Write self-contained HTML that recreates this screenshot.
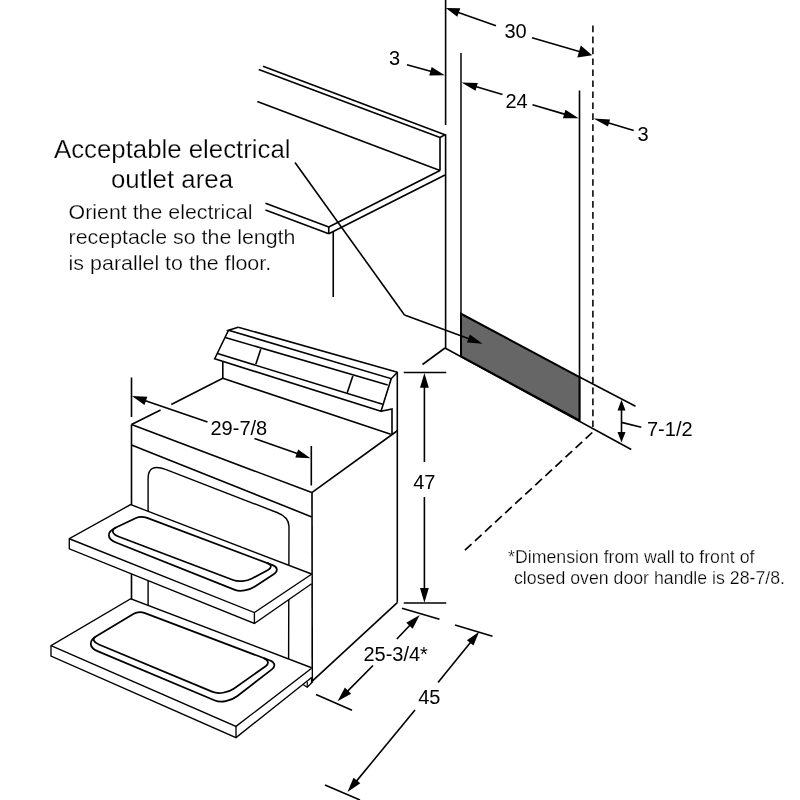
<!DOCTYPE html>
<html><head><meta charset="utf-8"><title>Range installation dimensions</title>
<style>
html,body{margin:0;padding:0;background:#fff;}
body{width:800px;height:800px;overflow:hidden;}
svg{display:block;will-change:transform;}
svg text{font-family:"Liberation Sans",sans-serif;fill:#000;stroke:#fff;stroke-width:0.25px;}
svg text.n{stroke:none;}
</style></head><body>
<svg width="800" height="800" viewBox="0 0 800 800" stroke="#000" fill="none" stroke-linecap="butt" stroke-linejoin="miter">
<rect x="0" y="0" width="800" height="800" fill="#fff" stroke="none"/>
<line x1="445.6" y1="0" x2="445.6" y2="125" stroke-width="1.6" />
<line x1="445.6" y1="134.2" x2="445.6" y2="348" stroke-width="1.6" />
<line x1="461" y1="53" x2="461" y2="356" stroke-width="1.7" stroke="#222"/>
<line x1="579.5" y1="90.5" x2="579.5" y2="420" stroke-width="1.6" />
<line x1="592.9" y1="25.6" x2="592.9" y2="427.6" stroke-width="1.55" stroke-dasharray="6.6 4.37"/>
<line x1="592.25" y1="432.5" x2="463.4" y2="551.6" stroke-width="1.7" stroke-dasharray="9 4.7"/>
<line x1="445" y1="348" x2="422.5" y2="364.5" stroke-width="1.6" />
<line x1="445" y1="348" x2="631.25" y2="449.5" stroke-width="1.6" />
<path d="M461,313.75 L579.5,377 L579.5,420.5 L461,356.5 Z" stroke-width="2" fill="#666" />
<line x1="579.5" y1="377" x2="635.5" y2="406.25" stroke-width="1.6" />
<line x1="263" y1="66.25" x2="445.6" y2="134.9" stroke-width="1.6" />
<line x1="258.75" y1="69.5" x2="440" y2="137.5" stroke-width="1.6" />
<line x1="440" y1="137.5" x2="445.2" y2="134.6" stroke-width="1.6" />
<line x1="440" y1="137.5" x2="440" y2="170.5" stroke-width="1.6" />
<line x1="257.3" y1="101.5" x2="440" y2="170.5" stroke-width="1.6" />
<line x1="440" y1="170.5" x2="328.75" y2="227" stroke-width="1.6" />
<line x1="445" y1="175" x2="328.75" y2="233.75" stroke-width="1.6" />
<line x1="328.75" y1="227" x2="265.5" y2="203.25" stroke-width="1.6" />
<line x1="328.75" y1="233.75" x2="265.5" y2="210" stroke-width="1.6" />
<line x1="328.75" y1="227" x2="328.75" y2="233.75" stroke-width="1.6" />
<line x1="333.25" y1="232" x2="333.25" y2="297" stroke-width="1.6" />
<line x1="496" y1="25.8" x2="456.92" y2="11.94" stroke-width="1.6" />
<polygon points="445.8,8 460.31,8.37 457.30,16.85" fill="#000" stroke="none"/>
<line x1="532" y1="37.8" x2="580.97" y2="52.03" stroke-width="1.6" />
<polygon points="592.2,55.3 577.31,57.43 580.78,45.52" fill="#000" stroke="none"/>
<text class="n" x="515.5" y="37.5" font-size="20" text-anchor="middle" >30</text>
<line x1="407" y1="64.7" x2="432.38" y2="71.84" stroke-width="1.6" />
<polygon points="444.7,75.3 429.26,75.53 431.64,67.06" fill="#000" stroke="none"/>
<text class="n" x="394.5" y="64.5" font-size="20" text-anchor="middle" >3</text>
<line x1="502.5" y1="94.5" x2="474.74" y2="86.31" stroke-width="1.6" />
<polygon points="461.5,82.4 477.79,83.04 475.52,90.71" fill="#000" stroke="none"/>
<line x1="532.5" y1="104.7" x2="566.13" y2="114.62" stroke-width="1.6" />
<polygon points="578.6,118.3 562.97,118.28 565.46,109.84" fill="#000" stroke="none"/>
<text class="n" x="516.5" y="107.5" font-size="20" text-anchor="middle" >24</text>
<line x1="633.75" y1="130.5" x2="607.1" y2="122.49" stroke-width="1.6" />
<polygon points="593.5,118.4 610.05,119.62 607.98,126.51" fill="#000" stroke="none"/>
<text class="n" x="643" y="140.5" font-size="20" text-anchor="middle" >3</text>
<line x1="621.5" y1="421" x2="621.5" y2="408.4" stroke-width="1.6" />
<polygon points="621.5,399.8 625.50,410.40 617.50,410.40" fill="#000" stroke="none"/>
<line x1="621.5" y1="421" x2="621.5" y2="434.0" stroke-width="1.6" />
<polygon points="621.5,442.6 617.50,432.00 625.50,432.00" fill="#000" stroke="none"/>
<line x1="621.5" y1="422.4" x2="641.3" y2="427.3" stroke-width="1.6" />
<text class="n" x="647" y="436" font-size="20" text-anchor="start" >7-1/2</text>
<line x1="403.75" y1="372.5" x2="446.25" y2="372.5" stroke-width="1.6" />
<line x1="403.75" y1="603" x2="446.25" y2="603" stroke-width="1.6" />
<line x1="424.4" y1="462" x2="424.4" y2="385.7" stroke-width="1.6" />
<polygon points="424.4,372.9 428.80,387.70 420.00,387.70" fill="#000" stroke="none"/>
<line x1="424.4" y1="497" x2="424.4" y2="590.0" stroke-width="1.6" />
<polygon points="424.4,602.8 420.00,588.00 428.80,588.00" fill="#000" stroke="none"/>
<text class="n" x="424.3" y="489" font-size="20" text-anchor="middle" >47</text>
<line x1="131.5" y1="377.5" x2="131.5" y2="417" stroke-width="1.6" />
<line x1="311.3" y1="446" x2="311.3" y2="485.5" stroke-width="1.6" />
<line x1="207.5" y1="421.9" x2="144.01" y2="400.15" stroke-width="1.6" />
<polygon points="131.9,396 147.33,396.63 144.48,404.96" fill="#000" stroke="none"/>
<line x1="254.5" y1="438.5" x2="298.62" y2="454.1" stroke-width="1.6" />
<polygon points="310.5,458.3 295.32,457.44 298.15,449.43" fill="#000" stroke="none"/>
<text class="n" x="210.5" y="435" font-size="20" text-anchor="start" >29-7/8</text>
<line x1="402" y1="608.3" x2="439.5" y2="619.3" stroke-width="1.6" />
<line x1="316" y1="694.6" x2="352" y2="710.2" stroke-width="1.6" />
<line x1="396.8" y1="639" x2="410.86" y2="624.26" stroke-width="1.6" />
<polygon points="419.7,615 412.67,628.75 406.30,622.67" fill="#000" stroke="none"/>
<line x1="373" y1="665.5" x2="346.61" y2="692.11" stroke-width="1.6" />
<polygon points="337.6,701.2 344.90,687.59 351.15,693.79" fill="#000" stroke="none"/>
<text class="n" x="363.4" y="661" font-size="20" text-anchor="start" >25-3/4*</text>
<line x1="455" y1="625" x2="492.5" y2="636.25" stroke-width="1.6" />
<line x1="325" y1="785" x2="360" y2="800" stroke-width="1.6" />
<line x1="438" y1="682.5" x2="471.44" y2="641.35" stroke-width="1.6" />
<polygon points="479.2,631.8 473.44,645.55 466.92,640.25" fill="#000" stroke="none"/>
<line x1="415" y1="710" x2="355.63" y2="782.12" stroke-width="1.6" />
<polygon points="347.5,792 353.51,777.78 360.30,783.37" fill="#000" stroke="none"/>
<text class="n" x="429.3" y="704" font-size="20" text-anchor="middle" >45</text>
<line x1="295" y1="162.5" x2="404.5" y2="315" stroke-width="1.6" />
<line x1="404.5" y1="315" x2="470.3" y2="339.25" stroke-width="1.6" />
<polygon points="482.5,343.75 466.94,342.60 469.91,334.53" fill="#000" stroke="none"/>
<text x="54" y="157.7" font-size="26" text-anchor="start" textLength="236.5" lengthAdjust="spacingAndGlyphs" >Acceptable electrical</text>
<text x="111" y="188" font-size="26" text-anchor="start" textLength="122" lengthAdjust="spacingAndGlyphs" >outlet area</text>
<text x="68.6" y="219" font-size="21" text-anchor="start" textLength="184" lengthAdjust="spacingAndGlyphs" >Orient the electrical</text>
<text x="68.6" y="244.25" font-size="21" text-anchor="start" textLength="226.8" lengthAdjust="spacingAndGlyphs" >receptacle so the length</text>
<text x="68.6" y="269.5" font-size="21" text-anchor="start" textLength="202.6" lengthAdjust="spacingAndGlyphs" >is parallel to the floor.</text>
<text x="508" y="563" font-size="18" text-anchor="start" textLength="246.5" lengthAdjust="spacingAndGlyphs" >*Dimension from wall to front of</text>
<text x="514" y="583.6" font-size="18" text-anchor="start" textLength="271" lengthAdjust="spacingAndGlyphs" >closed oven door handle is 28-7/8.</text>
<path d="M238.25,327.25 L397.5,372.25" stroke-width="1.6" fill="none" />
<path d="M238.25,327.25 L228.5,330.25 L391.2,378.7 L397.5,372.25" stroke-width="1.6" fill="none" />
<path d="M228.5,330.25 L214.7,358.75 L381,411.3 L391.2,378.7" stroke-width="1.6" fill="none" />
<line x1="225.2" y1="337.5" x2="387.75" y2="385" stroke-width="1.6" />
<line x1="217.5" y1="353.5" x2="382.6" y2="404.3" stroke-width="1.6" />
<line x1="260.75" y1="349.3" x2="255.8" y2="364.3" stroke-width="1.6" />
<line x1="352.8" y1="376" x2="347.25" y2="392.8" stroke-width="1.6" />
<path d="M381,411.3 L392,409 L392,434" stroke-width="1.6" fill="none" />
<line x1="222.8" y1="361.5" x2="222.8" y2="378.25" stroke-width="1.6" />
<line x1="222.8" y1="378.25" x2="390.75" y2="434.2" stroke-width="1.6" />
<line x1="397.3" y1="372.25" x2="397.3" y2="602.6" stroke-width="1.6" />
<line x1="397.3" y1="430.75" x2="311.8" y2="492.6" stroke-width="1.6" />
<line x1="222.8" y1="378.25" x2="171.25" y2="404.5" stroke-width="1.6" />
<line x1="160.6" y1="410" x2="131.5" y2="424.5" stroke-width="1.6" />
<line x1="131.5" y1="424.5" x2="311.8" y2="492.6" stroke-width="1.6" />
<line x1="131.5" y1="445" x2="311.8" y2="516.9" stroke-width="1.6" />
<line x1="131.5" y1="424.5" x2="131.5" y2="600" stroke-width="1.6" />
<line x1="312" y1="492.6" x2="312.25" y2="681.2" stroke-width="1.6" />
<line x1="397.3" y1="602.6" x2="312.25" y2="681.2" stroke-width="1.6" />
<path d="M148.1,605 L148.1,478.5 Q148.1,462.7 166.2,469.7 L277,512.5 Q289,517.1 289,526.5 L288.6,659" stroke-width="1.4" fill="none" />
<path d="M130.6,504.6 L69.3,538.75 L69.3,548.8 L254.4,623.5 L311.2,583.75 L311.2,574 Z" stroke-width="0" fill="#fff" stroke="none"/>
<path d="M311.6,574 L130.6,504.6 L69.3,538.75 L69.3,548.8 L254.4,623.5 L311.6,583.75" stroke-width="1.35" fill="none" />
<path d="M69.3,538.75 L254.4,612.6 L311.9,574" stroke-width="1.35" fill="none" />
<line x1="254.4" y1="612.6" x2="254.4" y2="623.5" stroke-width="1.35" />
<path d="M136.03,517.97 C138.78,516.66 143.72,516.63 147.08,517.89 L272.64,565.18 C277.81,567.12 278.26,571.16 273.65,574.20 L254.97,586.50 C249.02,590.42 240.04,591.94 234.91,589.90 L115.99,542.54 C106.49,538.76 106.48,532.04 115.95,527.53 Z" stroke-width="1.75" fill="none" />
<path d="M267.07,562.84 L267.07,562.84 C271.73,564.59 272.14,567.79 267.99,569.99 L252.02,578.48 C246.71,581.31 238.21,582.01 233.05,580.05 L119.02,536.79 C112.05,534.14 110.69,529.97 115.98,527.46 L116.07,527.42" stroke-width="1.75" fill="none" />
<path d="M130.8,598.75 L51,645.6 L51,656 L236,737.6 L311.4,677.5 L311.4,667.75 Z" stroke-width="0" fill="#fff" stroke="none"/>
<path d="M311.6,667.75 L130.8,598.75 L51,645.6 L51,656 L236,737.6 L311.6,677.5" stroke-width="1.35" fill="none" />
<path d="M51,645.6 L236,726.4 L311.6,668.2" stroke-width="1.35" fill="none" />
<line x1="236" y1="726.4" x2="236" y2="737.6" stroke-width="1.35" />
<path d="M133.74,613.83 C136.53,612.16 141.56,611.85 144.97,613.14 L270.12,660.54 C275.02,662.39 275.81,666.36 271.87,669.40 L237.10,696.21 C230.81,701.06 220.87,702.97 214.91,700.47 L97.50,651.13 C89.05,647.58 88.50,640.93 96.27,636.27 Z" stroke-width="1.75" fill="none" />
<path d="M263.61,658.07 L263.70,658.11 C268.51,659.93 269.37,663.55 265.63,666.20 L233.71,688.79 C227.85,692.94 218.14,694.23 212.02,691.68 L98.89,644.54 C93.54,642.31 92.08,638.78 95.63,636.65 L95.72,636.60" stroke-width="1.75" fill="none" />
<path d="M303,684.5 L307.25,687.25 L313,681.5" stroke-width="1.3" fill="none" />
<line x1="307.25" y1="682" x2="307.25" y2="687.25" stroke-width="1.2" />
<line x1="311.5" y1="677.5" x2="311.5" y2="683" stroke-width="1.2" />
</svg>
</body></html>
